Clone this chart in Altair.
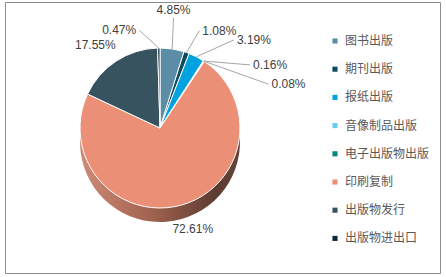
import altair as alt
import pandas as pd

# ---- data ----
categories = ["图书出版", "期刊出版", "报纸出版", "音像制品出版",
              "电子出版物出版", "印刷复制", "出版物发行", "出版物进出口"]
shares = [4.85, 1.08, 3.19, 0.16, 0.08, 72.61, 17.55, 0.47]
colors = ["#5b8ea6", "#0b4a60", "#00a3df", "#66cef1",
          "#00897d", "#eb9077", "#37535f", "#0b2a37"]

# ---- label layout (presentation only) ----
label_angle_deg = [7, 22, 40, 55, 68, 162, 322, 348]
label_radius = [111, 105, 115, 110, 117, 106, 105, 100]
has_leader = [True, True, True, True, True, False, False, True]

PAD_L, PAD_T, PAD_R, PAD_B = 5, 2, 6, 4
W, H = 446 - PAD_L - PAD_R, 277 - PAD_T - PAD_B
CX, CY = 160 - PAD_L, 128 - PAD_T
R = 80
DEPTH = 14

df = pd.DataFrame({
    "category": categories,
    "share": shares,
    "idx": list(range(len(categories))),
    "la": label_angle_deg,
    "lr": label_radius,
    "leader": has_leader,
})
df["label"] = [f"{s:.2f}%" for s in shares]

color_scale = alt.Scale(domain=categories, range=colors)
theta = alt.Theta("share:Q", stack=True)
order = alt.Order("idx:Q")

side_gradient = alt.LinearGradient(
    gradient="linear",
    stops=[
        alt.GradientStop(color="#cf8b76", offset=0),
        alt.GradientStop(color="#a0624f", offset=0.45),
        alt.GradientStop(color="#5c3b31", offset=0.85),
        alt.GradientStop(color="#66433a", offset=1),
    ],
    x1=0, x2=1, y1=0, y2=0,
)

side = alt.Chart(df).mark_arc(outerRadius=R, fill=side_gradient).encode(
    theta=theta, order=order,
    x=alt.value(CX), y=alt.value(CY + DEPTH),
)

pie = alt.Chart(df).mark_arc(outerRadius=R, stroke="white", strokeWidth=1).encode(
    theta=theta, order=order,
    color=alt.Color("category:N", scale=color_scale, sort=categories,
                    legend=alt.Legend(title=None, orient="none",
                                      legendX=324, legendY=33,
                                      symbolType="square", symbolSize=26,
                                      symbolStrokeWidth=0,
                                      labelFont="Noto Sans CJK SC",
                                      labelFontSize=12, labelColor="#595959",
                                      labelOffset=4, rowPadding=16.2,
                                      padding=0)),
    x=alt.value(CX), y=alt.value(CY),
)


def geo():
    return (alt.Chart(df)
            .transform_joinaggregate(total="sum(share)")
            .transform_window(cum="sum(share)", sort=[alt.SortField("idx")],
                              frame=[None, 0])
            .transform_calculate(
                mid="2*PI*(datum.cum - datum.share/2)/datum.total",
                lrad="datum.la*PI/180")
            .transform_calculate(
                ex=f"{CX} + {R}*sin(datum.mid)",
                ey=f"{CY} - {R}*cos(datum.mid)",
                lx=f"{CX} + datum.lr*sin(datum.lrad)",
                ly=f"{CY} - datum.lr*cos(datum.lrad)",
                sinl="sin(datum.lrad)"))


leaders = geo().transform_filter("datum.leader").mark_rule(
    color="#a6a6a6", strokeWidth=1).encode(
    x=alt.X("ex:Q", scale=None, axis=None),
    y=alt.Y("ey:Q", scale=None, axis=None),
    x2="lx:Q", y2="ly:Q",
)

txt_style = dict(font="Liberation Sans", fontSize=12, color="#404040")


def txt(filt, **kw):
    return geo().transform_filter(filt).mark_text(**txt_style, **kw).encode(
        x=alt.X("lx:Q", scale=None, axis=None),
        y=alt.Y("ly:Q", scale=None, axis=None),
        text="label:N",
    )


t_left = txt("datum.leader && datum.sinl >= 0.2", align="left", baseline="middle", dx=3)
t_right = txt("datum.leader && datum.sinl <= -0.2", align="right", baseline="middle", dx=-3)
t_top = txt("datum.leader && abs(datum.sinl) < 0.2", align="center", baseline="bottom", dy=-1)
t_free = txt("!datum.leader", align="center", baseline="middle")

chart = alt.layer(side, pie, leaders, t_left, t_right, t_top, t_free).properties(
    width=W, height=H,
    padding={"left": PAD_L, "top": PAD_T, "right": PAD_R, "bottom": PAD_B},
    autosize=alt.AutoSizeParams(type="none"),
    background="white",
).configure_view(stroke="#8c8c8c", strokeWidth=1)

chart.save("out.html", embed_options={"renderer": "svg", "actions": False})
